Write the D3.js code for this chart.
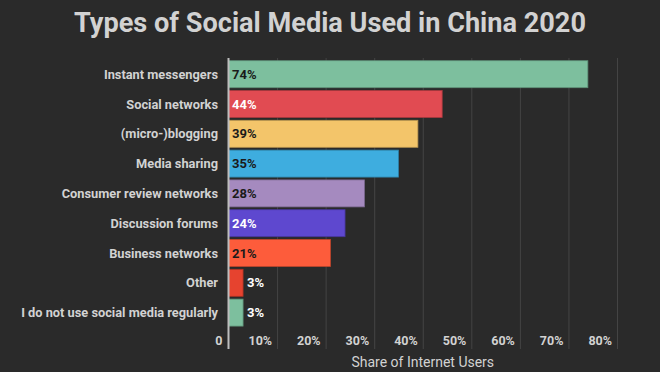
<!DOCTYPE html>
<html><head><meta charset="utf-8">
<script src="https://cdn.jsdelivr.net/npm/d3@7"></script>
<style>
html,body{margin:0;padding:0;background:#2a2a2a;}
svg{display:block;font-family:Roboto,"Noto Sans",sans-serif;}
</style></head>
<body><svg id="chart" width="660" height="372"></svg>
<script>
const categories = ["Instant messengers","Social networks","(micro-)blogging","Media sharing","Consumer review networks","Discussion forums","Business networks","Other","I do not use social media regularly"];
const values = [74,44,39,35,28,24,21,3,3];
const barColors = ["#7dbf9e","#e14b52","#f3c56a","#3eaddf","#a58abf","#5e48cf","#fd5c3b","#e6432f","#7dbf9e"];
const labelColors = ["#1a1a1a","#ffffff","#1a1a1a","#1a1a1a","#1a1a1a","#ffffff","#1a1a1a","#ffffff","#ffffff"];
const tickValues = [0,10,20,30,40,50,60,70,80];
const tickLabels = ["0","10%","20%","30%","40%","50%","60%","70%","80%"];

const svg = d3.select("#chart");
svg.append("rect").attr("width",660).attr("height",372).attr("fill","#2a2a2a");

const x = d3.scaleLinear().domain([0,80]).range([228.5,617]);
const y = d3.scaleBand().domain(categories).range([59.3,327.5]).paddingInner(0.094).paddingOuter(0.047);

// title
svg.append("text").attr("x",330).attr("y",32).attr("text-anchor","middle")
  .attr("fill","#d2d2d2").attr("font-size",27).attr("font-weight",700)
  .attr("textLength",512).attr("lengthAdjust","spacingAndGlyphs")
  .text("Types of Social Media Used in China 2020");

// gridlines
svg.append("g").selectAll("line").data(tickValues.slice(1)).join("line")
  .attr("x1",d=>x(d)+0.5).attr("x2",d=>x(d)+0.5).attr("y1",58).attr("y2",349)
  .attr("stroke","#444").attr("stroke-width",1);

// bars
svg.append("g").selectAll("rect").data(values).join("rect")
  .attr("x",x(0)).attr("y",(d,i)=>y(categories[i]))
  .attr("width",d=>x(d)-x(0)).attr("height",y.bandwidth())
  .attr("fill",(d,i)=>barColors[i])
  .attr("stroke",(d,i)=>d3.color(barColors[i]).darker(0.8)).attr("stroke-width",0.8);

// zero line
svg.append("line").attr("x1",x(0)).attr("x2",x(0)).attr("y1",58).attr("y2",349)
  .attr("stroke","#bdbdbd").attr("stroke-width",2);

// value labels
svg.append("g").selectAll("text").data(values).join("text")
  .attr("x",d=> d<10 ? x(d)+4 : x(0)+3.5)
  .attr("y",(d,i)=>y(categories[i])+y.bandwidth()/2+4.5)
  .attr("fill",(d,i)=>labelColors[i])
  .attr("font-size",13).attr("font-weight",700)
  .text(d=>d+"%");

// category labels
svg.append("g").selectAll("text").data(categories).join("text")
  .attr("x",218).attr("y",d=>y(d)+y.bandwidth()/2+4.5)
  .attr("text-anchor","end").attr("fill","#d2d2d2")
  .attr("font-size",12.8).attr("font-weight",700)
  .text(d=>d);

// tick labels (right-aligned just left of each gridline)
svg.append("g").selectAll("text").data(tickValues).join("text")
  .attr("x",(d,i)=> i===0 ? x(0)-6 : x(d)-5)
  .attr("y",345).attr("text-anchor","end").attr("fill","#d2d2d2")
  .attr("font-size",12.5).attr("font-weight",700)
  .text((d,i)=>tickLabels[i]);

// axis title
svg.append("text").attr("x",(x(0)+x(80))/2).attr("y",367).attr("text-anchor","middle")
  .attr("fill","#d2d2d2").attr("font-size",14)
  .text("Share of Internet Users");
</script></body></html>
